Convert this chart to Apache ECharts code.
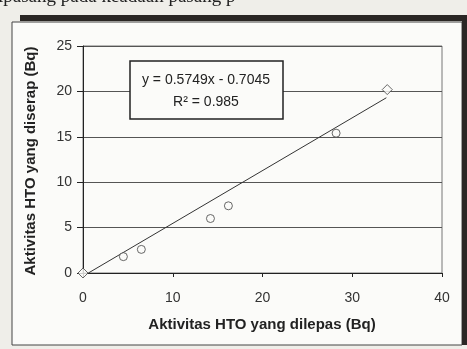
<!DOCTYPE html>
<html>
<head>
<meta charset="utf-8">
<script src="https://cdn.jsdelivr.net/npm/echarts@6/dist/echarts.min.js"></script>
<style>
html,body{margin:0;padding:0;background:#efeee9;}
#c{width:467px;height:349px;}
</style>
</head>
<body>
<div id="c"></div>
<script>
// Data
var xValues = [0, 4.5, 6.5, 14.2, 16.2, 28.2, 33.9];
var yValues = [0, 1.8, 2.6, 6.0, 7.4, 15.4, 20.2];
var pointSymbols = ['diamond', 'emptyCircle', 'emptyCircle', 'emptyCircle', 'emptyCircle', 'emptyCircle', 'diamond'];
var trendLine = [[0.6, 0], [33.8, 19.3]];
var xTicks = [0, 10, 20, 30, 40];
var yTicks = [0, 5, 10, 15, 20, 25];
var equationText = 'y = 0.5749x - 0.7045';
var r2Text = 'R\u00B2 = 0.985';
var xTitle = 'Aktivitas HTO yang dilepas (Bq)';
var yTitle = 'Aktivitas HTO yang diserap (Bq)';
var topText = 'ipasang pada keadaan pasang p';

var points = xValues.map(function (x, i) {
  return {
    value: [x, yValues[i]],
    symbol: pointSymbols[i] === 'diamond' ? 'diamond' : 'circle',
    symbolSize: pointSymbols[i] === 'diamond' ? 10 : 8
  };
});

var chart = echarts.init(document.getElementById('c'), null, {renderer: 'canvas'});
var font = '"Liberation Sans", Arial, sans-serif';
chart.setOption({
  animation: false,
  backgroundColor: '#efeee9',
  graphic: [
    {type: 'text', left: -2, top: -12, z: 0, style: {text: topText, font: '19px "Liberation Serif", serif', fill: '#222'}},
    {type: 'rect', shape: {x: 12, y: 22, width: 450, height: 323}, style: {fill: '#fbfbf9', stroke: '#444', lineWidth: 1}, z: -10},
    {type: 'rect', shape: {x: 20, y: 15, width: 447, height: 6}, style: {fill: '#2a2624'}, z: -9},
    {type: 'rect', shape: {x: 462, y: 15, width: 5, height: 330}, style: {fill: '#2a2624'}, z: -9},
    {type: 'text', x: 262, y: 325, style: {text: xTitle, align: 'center', verticalAlign: 'middle', font: 'bold 15px ' + font, fill: '#222'}},
    {type: 'text', x: 31, y: 161, rotation: Math.PI / 2, style: {text: yTitle, align: 'center', verticalAlign: 'middle', font: 'bold 15px ' + font, fill: '#222'}},
    {type: 'rect', shape: {x: 130, y: 61, width: 153, height: 58}, style: {fill: '#fbfbf9', stroke: '#222', lineWidth: 1.5}, z: 100},
    {type: 'text', x: 206, y: 80, z: 101, style: {text: equationText, align: 'center', verticalAlign: 'middle', font: '14px ' + font, fill: '#222'}},
    {type: 'text', x: 206, y: 102, z: 101, style: {text: r2Text, align: 'center', verticalAlign: 'middle', font: '14px ' + font, fill: '#222'}}
  ],
  grid: {left: 83, right: 25, top: 46, bottom: 76, show: true, borderColor: '#777', borderWidth: 1, backgroundColor: 'transparent'},
  xAxis: {
    type: 'value', min: xTicks[0], max: xTicks[xTicks.length - 1], interval: 10,
    axisLine: {show: true, lineStyle: {color: '#222', width: 1}},
    axisTick: {show: true, length: 4, lineStyle: {color: '#222'}},
    splitLine: {show: false},
    axisLabel: {color: '#333', fontSize: 14, fontFamily: font, margin: 18}
  },
  yAxis: {
    type: 'value', min: yTicks[0], max: yTicks[yTicks.length - 1], interval: 5,
    axisLine: {show: true, lineStyle: {color: '#222', width: 1}},
    axisTick: {show: true, length: 6, lineStyle: {color: '#222'}},
    splitLine: {show: true, lineStyle: {color: '#555', width: 1}},
    axisLabel: {color: '#333', fontSize: 14, fontFamily: font, margin: 11}
  },
  series: [
    {
      type: 'line', data: trendLine, symbol: 'none', silent: true,
      lineStyle: {color: '#333', width: 1}, z: 2
    },
    {
      type: 'scatter', data: points,
      itemStyle: {color: '#fbfbf9', borderColor: '#444', borderWidth: 1},
      z: 3
    }
  ]
});
</script>
</body>
</html>
